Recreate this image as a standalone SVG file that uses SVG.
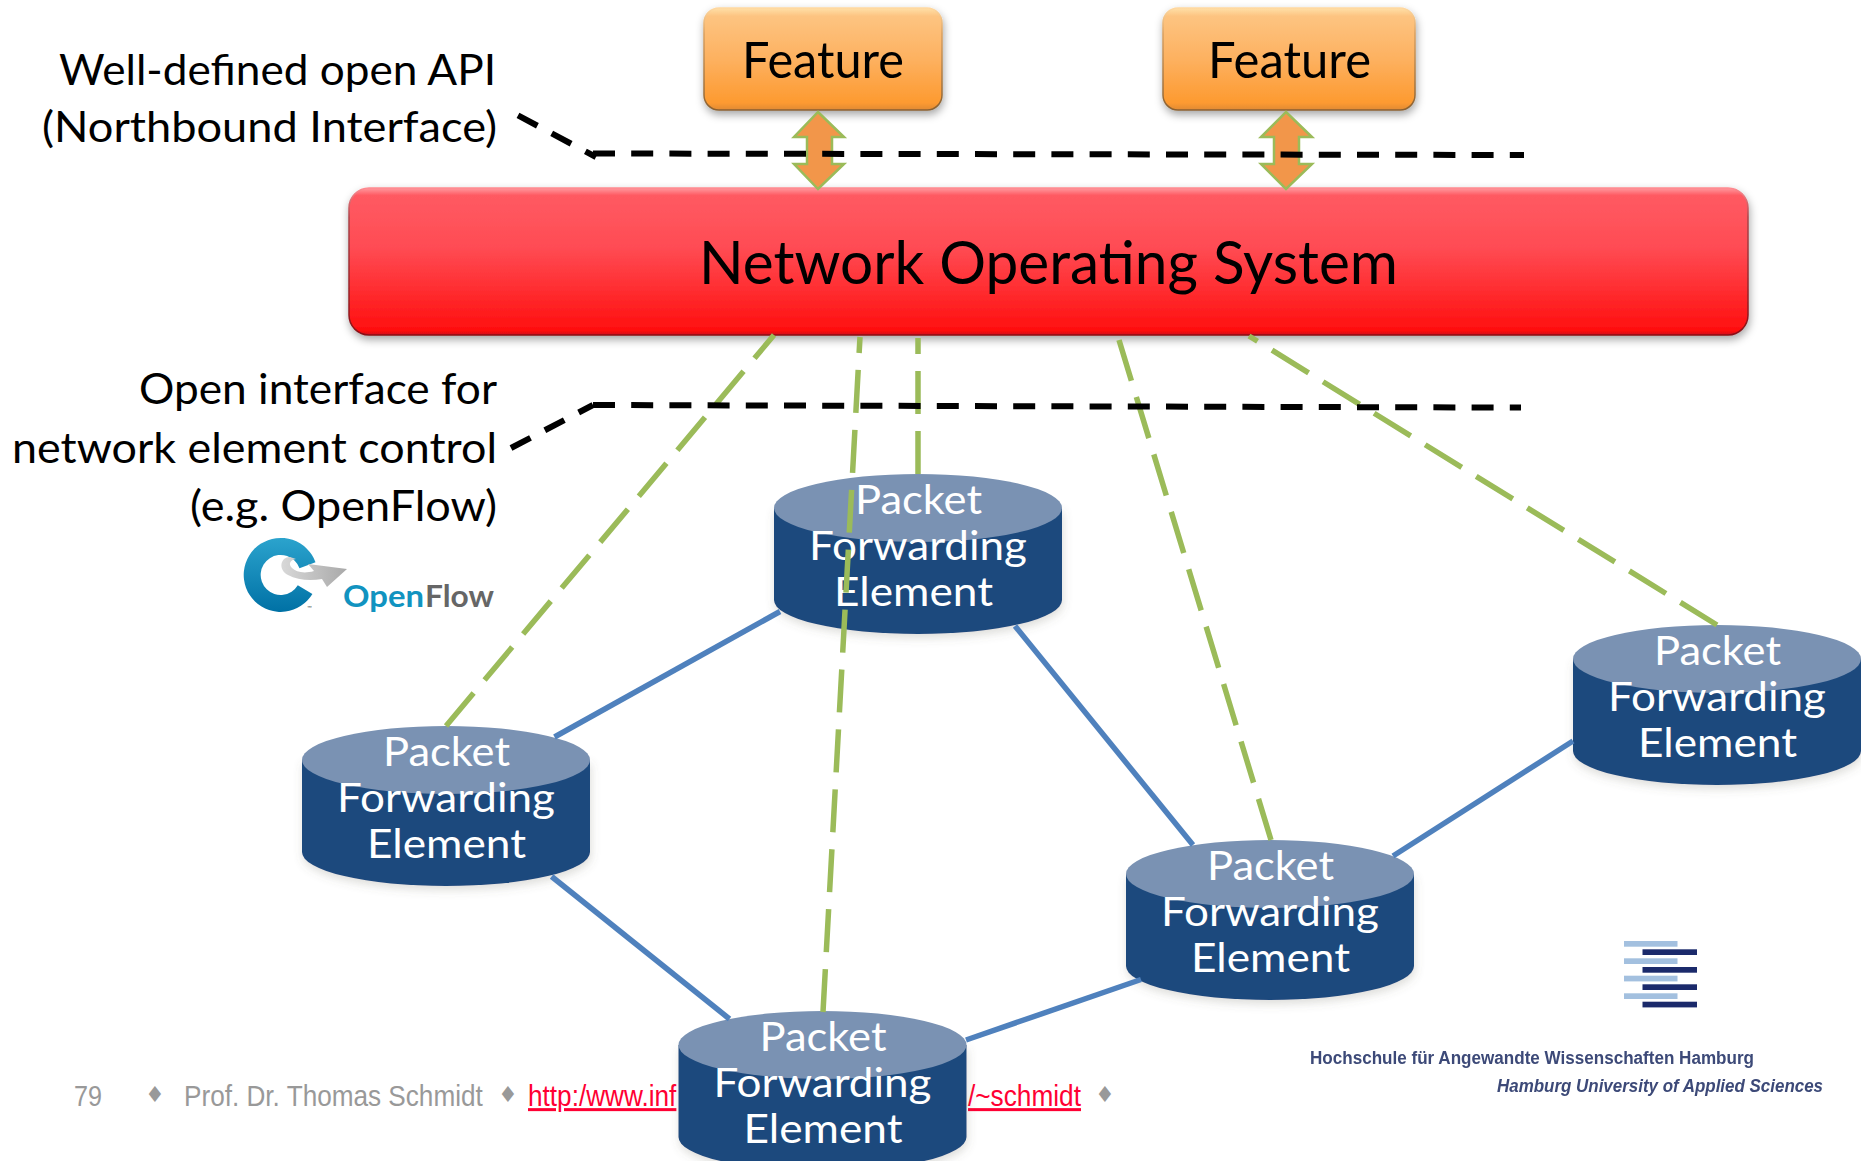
<svg xmlns="http://www.w3.org/2000/svg" width="1861" height="1161" viewBox="0 0 1861 1161">
<style>
text{font-family:Lato,"Open Sans",sans-serif}
.lbl{font-size:42px;fill:#000}
.pfe{font-size:41px;fill:#fff}
.foot{font-family:"Liberation Sans",Arial,sans-serif;font-size:30px;fill:#999}
.dia{font-family:"DejaVu Sans",sans-serif;font-size:22px;fill:#999}
.url{font-family:"Liberation Sans",Arial,sans-serif;font-size:30px;fill:#f03;text-decoration:underline}
.blue{stroke:#4f81bd;stroke-width:5.5;fill:none}
.green{stroke:#9bbb59;stroke-width:5.5;fill:none;stroke-dasharray:43 17}
.black{stroke:#000;stroke-width:6;fill:none;stroke-dasharray:22 16.2}
.arrow{fill:#f2964a;stroke:#9bbb59;stroke-width:2.5}
.lt{fill:#a3c0df}.dk{fill:#1b2a6b}
.haw{font-family:"Liberation Sans",Arial,sans-serif;font-size:18px;fill:#3c4a78;font-weight:bold}
</style>
<defs>
<linearGradient id="fo" x1="0" y1="0" x2="0" y2="1"><stop offset="0" stop-color="#ffe0a8"/><stop offset=".08" stop-color="#fdc481"/><stop offset=".5" stop-color="#fdb160"/><stop offset=".93" stop-color="#fd9a30"/><stop offset="1" stop-color="#e08a35"/></linearGradient>
<linearGradient id="foe" x1="0" y1="0" x2="0" y2="1"><stop offset="0" stop-color="#ffd8a0"/><stop offset=".25" stop-color="#d9a060"/><stop offset="1" stop-color="#8a6030"/></linearGradient>
<linearGradient id="re" x1="0" y1="0" x2="0" y2="1"><stop offset="0" stop-color="#ff9aa0"/><stop offset=".05" stop-color="#ff5a62"/><stop offset=".4" stop-color="#ff4c54"/><stop offset=".97" stop-color="#ff0f0f"/><stop offset="1" stop-color="#d01015"/></linearGradient>
<linearGradient id="ree" x1="0" y1="0" x2="0" y2="1"><stop offset="0" stop-color="#ff8a90"/><stop offset=".2" stop-color="#a8454a"/><stop offset="1" stop-color="#8a1015"/></linearGradient>
<linearGradient id="ring" x1="0" y1="0" x2="0" y2="1"><stop offset="0" stop-color="#2ba3cd"/><stop offset="1" stop-color="#0071a5"/></linearGradient>
<linearGradient id="swoosh" x1="0" y1="0" x2="1" y2="0"><stop offset="0" stop-color="#d8d8d8"/><stop offset="1" stop-color="#a9a9a9"/></linearGradient>
<filter id="sh" x="-10%" y="-20%" width="120%" height="150%"><feDropShadow dx="1" dy="4" stdDeviation="4" flood-color="#000" flood-opacity=".35"/></filter>
<filter id="sh2" x="-10%" y="-10%" width="120%" height="125%"><feDropShadow dx="1" dy="4" stdDeviation="5" flood-color="#665" flood-opacity=".22"/></filter>
<filter id="soft"><feGaussianBlur stdDeviation=".5"/></filter>
<g id="cyl">
<path d="M0,34V126A144,34 0 0 0 288,126V34Z" fill="#1f497d" filter="url(#sh2)"/>
<ellipse cx="144" cy="34" rx="144" ry="34" fill="#7a92b3"/>
</g>
<g id="pfetext">
<text class="pfe" x="81" y="39.5" textLength="127" lengthAdjust="spacingAndGlyphs">Packet</text>
<text class="pfe" x="35" y="86" textLength="218" lengthAdjust="spacingAndGlyphs">Forwarding</text>
</g>
</defs>
<rect width="1861" height="1161" fill="#fff"/>

<g id="footer">
<text class="foot" transform="translate(74 1106) scale(.84 1)">79</text>
<text class="dia" x="145" y="1102">♦</text>
<text class="foot" transform="translate(184 1106) scale(.872 1)">Prof. Dr. Thomas Schmidt</text>
<text class="dia" x="498" y="1102">♦</text>
<text class="url" transform="translate(528 1106) scale(.873 1)">http:/www.inf</text>
<text class="url" transform="translate(968 1106) scale(.875 1)">/~schmidt</text>
<text class="dia" x="1095" y="1102">♦</text>
</g>

<g id="labels">
<text class="lbl" x="59" y="85" textLength="437" lengthAdjust="spacingAndGlyphs">Well-defined open API</text>
<text class="lbl" x="42" y="142" textLength="455" lengthAdjust="spacingAndGlyphs">(Northbound Interface)</text>
<text class="lbl" x="139" y="404" textLength="358" lengthAdjust="spacingAndGlyphs">Open interface for</text>
<text class="lbl" x="12" y="463" textLength="485" lengthAdjust="spacingAndGlyphs">network element control</text>
<text class="lbl" x="190" y="521" textLength="307" lengthAdjust="spacingAndGlyphs">(e.g. OpenFlow)</text>
</g>

<g id="openflow-logo">
<path d="M315.5,562.3A37,37 0 1 0 312.4,594L297.8,585.3A20,20 0 1 1 299.5,568.2Z" fill="url(#ring)"/>
<path d="M290,557C280,557 278,570 288,575C297,580 310,581 322,579L327,587L347,569L308,564L314,571C304,574 296,572 292,568C288,564 290,560 296,559Z" fill="url(#swoosh)"/>
<text x="343" y="607" fill="#1193c0" font-weight="700" style="font-size:31px" textLength="81" lengthAdjust="spacingAndGlyphs">Open</text>
<text x="425" y="607" fill="#666" font-weight="700" style="font-size:31px" textLength="69" lengthAdjust="spacingAndGlyphs">Flow</text>
<text x="307" y="610" fill="#555" style="font-size:6px">™</text>
</g>

<g id="node-feature-1">
<rect x="704" y="8" width="238" height="102" rx="15" fill="url(#fo)" stroke="url(#foe)" stroke-width="1.5" filter="url(#sh)"/>
<text x="742" y="78" style="font-size:50px" textLength="162" lengthAdjust="spacingAndGlyphs">Feature</text>
</g>
<g id="node-feature-2">
<rect x="1163" y="8" width="252" height="102" rx="15" fill="url(#fo)" stroke="url(#foe)" stroke-width="1.5" filter="url(#sh)"/>
<text x="1208" y="78" style="font-size:50px" textLength="163" lengthAdjust="spacingAndGlyphs">Feature</text>
</g>
<g id="node-nos">
<rect x="349" y="188" width="1399" height="147" rx="20" fill="url(#re)" stroke="url(#ree)" stroke-width="1.5" filter="url(#sh)"/>
<text x="699" y="284" style="font-size:60px" textLength="699" lengthAdjust="spacingAndGlyphs">Network Operating System</text>
</g>

<g id="node-pfe-a" transform="translate(774,474)"><use href="#cyl"/><use href="#pfetext"/>
<text class="pfe" x="60" y="132" textLength="159" lengthAdjust="spacingAndGlyphs">Element</text></g>
<g id="node-pfe-b" transform="translate(302,726)"><use href="#cyl"/><use href="#pfetext"/>
<text class="pfe" x="65" y="132" textLength="159" lengthAdjust="spacingAndGlyphs">Element</text></g>
<g id="node-pfe-c" transform="translate(1573,625)"><use href="#cyl"/><use href="#pfetext"/>
<text class="pfe" x="65" y="132" textLength="159" lengthAdjust="spacingAndGlyphs">Element</text></g>
<g id="node-pfe-d" transform="translate(1126,840)"><use href="#cyl"/><use href="#pfetext"/>
<text class="pfe" x="65" y="132" textLength="159" lengthAdjust="spacingAndGlyphs">Element</text></g>
<g id="node-pfe-e" transform="translate(678.5,1011)"><use href="#cyl"/><use href="#pfetext"/>
<text class="pfe" x="65" y="132" textLength="159" lengthAdjust="spacingAndGlyphs">Element</text></g>

<g id="haw-logo">
<rect class="lt" x="1624" y="941" width="53.5" height="5.7"/><rect class="dk" x="1642.5" y="949.3" width="54.5" height="5.7"/>
<rect class="lt" x="1624" y="958.3" width="53.5" height="5.7"/><rect class="dk" x="1642.5" y="967" width="54.5" height="5.7"/>
<rect class="lt" x="1624" y="975.7" width="53.5" height="5.7"/><rect class="dk" x="1642.5" y="984.3" width="54.5" height="5.7"/>
<rect class="lt" x="1624" y="993.3" width="53.5" height="5.7"/><rect class="dk" x="1642.5" y="1001.7" width="54.5" height="5.7"/>
<text class="haw" x="1310" y="1064" textLength="444" lengthAdjust="spacingAndGlyphs" filter="url(#soft)">Hochschule für Angewandte Wissenschaften Hamburg</text>
<text class="haw" x="1497" y="1091.5" textLength="326" lengthAdjust="spacingAndGlyphs" font-style="italic" filter="url(#soft)">Hamburg University of Applied Sciences</text>
</g>

<g id="connectors">
<path class="blue" d="M780,611.5L554.5,737"/>
<path class="blue" d="M551.6,876.5L729.5,1019"/>
<path class="blue" d="M1015,626L1193,845"/>
<path class="blue" d="M1393,856L1573,741"/>
<path class="blue" d="M966,1040L1141,979.5"/>
<path class="green" d="M446,726L774,335"/>
<path class="green" d="M823,1012L860,337"/>
<path class="green" d="M918,474V338"/>
<path class="green" d="M1271,840L1119,340"/>
<path class="green" d="M1717,625L1249,336"/>
<path class="arrow" id="api-arrow-1" d="M818,112L844,137H832V164H844L818,189L794,164H807V137H794Z"/>
<path class="arrow" id="api-arrow-2" d="M1286,112L1312,137H1299V164H1312L1286,189L1261,164H1274V137H1261Z"/>
<path class="black" d="M593,153.5L1524,155"/>
<path class="black" d="M518,115.4L596,157"/>
<path class="black" d="M593,405L1521,407.6"/>
<path class="black" d="M511,448L593,405"/>
</g>
</svg>
